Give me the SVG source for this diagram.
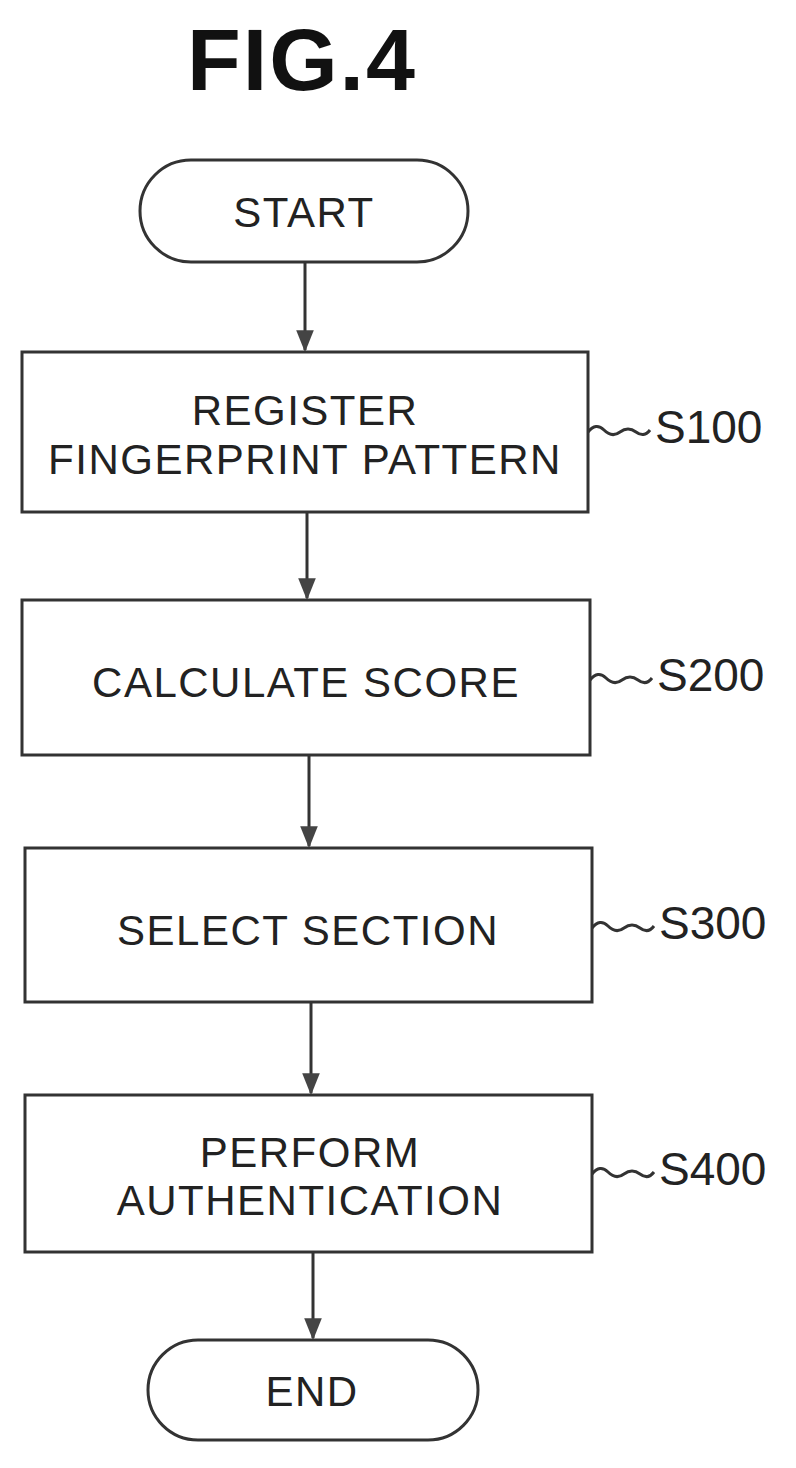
<svg xmlns="http://www.w3.org/2000/svg" width="796" height="1468" viewBox="0 0 796 1468">
<style>
.s{fill:#fff;stroke:#333;stroke-width:3}
.t{font-family:"Liberation Sans",Arial,sans-serif;font-size:42px;letter-spacing:1.5px;fill:#222;text-anchor:middle}
.l{font-family:"Liberation Sans",Arial,sans-serif;font-size:46px;fill:#222}
.c{stroke:#333;stroke-width:3;fill:none}
</style>
<defs>
<marker id="b" viewBox="0 0 20 20" refX="18" refY="10" markerWidth="22" markerHeight="22" orient="auto" markerUnits="userSpaceOnUse"><path d="M0,2L20,10L0,18z" fill="#444"/></marker></defs>
<text x="302" y="90" font-family="Liberation Sans,Arial,sans-serif" font-size="88" font-weight="bold" letter-spacing="2" text-anchor="middle" fill="#111">FIG.4</text>
<g id="connectors">
<path class="c" d="M305,262V350" marker-end="url(#b)"/>
<path class="c" d="M307,512V598" marker-end="url(#b)"/>
<path class="c" d="M309,755V846" marker-end="url(#b)"/>
<path class="c" d="M311,1002V1093" marker-end="url(#b)"/>
<path class="c" d="M313,1252V1338" marker-end="url(#b)"/>
<path class="c" d="M588,432q8,-10 16,-2t16,2t16,0t14,-2"/>
<path class="c" d="M590,680q8,-10 16,-2t16,2t16,0t14,-2"/>
<path class="c" d="M592,928q8,-10 16,-2t16,2t16,0t14,-2"/>
<path class="c" d="M592,1174q8,-10 16,-2t16,2t16,0t14,-2"/>
</g>
<g id="start"><rect class="s" x="140" y="160" width="328" height="102" rx="51"/><text class="t" x="304" y="227">START</text></g>
<g id="s100"><rect class="s" x="22" y="352" width="566" height="160"/><text class="t" x="305" y="425">REGISTER</text><text class="t" x="305" y="474">FINGERPRINT PATTERN</text><text class="l" x="655" y="443">S100</text></g>
<g id="s200"><rect class="s" x="22" y="600" width="568" height="155"/><text class="t" x="306" y="697">CALCULATE SCORE</text><text class="l" x="657" y="691">S200</text></g>
<g id="s300"><rect class="s" x="25" y="848" width="567" height="154"/><text class="t" x="308" y="945">SELECT SECTION</text><text class="l" x="659" y="939">S300</text></g>
<g id="s400"><rect class="s" x="25" y="1095" width="567" height="157"/><text class="t" x="310" y="1167">PERFORM</text><text class="t" x="310" y="1215">AUTHENTICATION</text><text class="l" x="659" y="1185">S400</text></g>
<g id="end"><rect class="s" x="148" y="1340" width="330" height="100" rx="50"/><text class="t" x="312" y="1406">END</text></g>
</svg>
